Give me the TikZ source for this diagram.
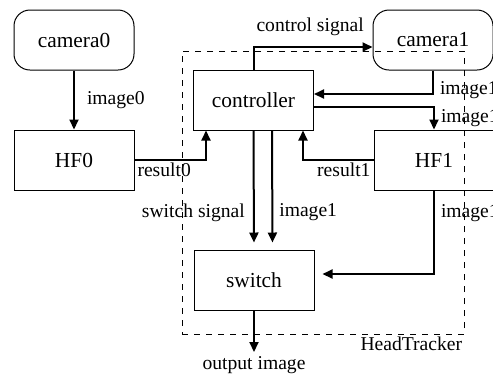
\documentclass[tikz,border=0pt]{standalone}
\usepackage{fontspec}
\setmainfont{Liberation Serif}
\usetikzlibrary{arrows.meta,positioning,calc}
\tikzset{
  % Plain block
  blk/.style={rectangle,draw,line width=0.5pt,
    minimum width=60pt,minimum height=30pt,
    font=\fontsize{10.7}{12}\selectfont},
  % Camera block
  cam/.style={blk,rounded corners=8pt},
  % Module frame
  frm/.style={rectangle,draw,dashed,line width=0.5pt,
    minimum width=141pt,minimum height=141.5pt},
  % Arrows
  arr/.style={-{Triangle[length=5pt,width=4.5pt]},line width=1pt},
  lbl/.style={font=\fontsize{9.8}{11}\selectfont,inner sep=1pt},
}
\begin{document}
\begin{tikzpicture}[x=0.5pt,y=-0.5pt]
  \clip (0,0) rectangle (493,377);

  % Module frame
  \node[frm] (frame) at (323,192.5) {};
  \node[lbl,below left] at (frame.south east) {HeadTracker};

  % Blocks
  \node[cam] (cam0) at (74,40) {camera0};
  \node[blk] (hf0) at (74,160) {HF0};
  \node[blk] (ctrl) at (253.5,100) {controller};
  \node[cam] (cam1) at (433,40) {camera1};
  \node[blk] (hf1) at (434,160) {HF1};
  \node[blk] (sw) at (254,280) {switch};
  \coordinate (out) at (254,352);

  % Connectors
  \draw[arr] (cam0) -- node[lbl,right,xshift=5pt] {image0} (hf0);
  \draw[arr] (hf0.east) node[lbl,below right] {result0}
    -| ($(ctrl.south west)+(13,0)$);
  \draw[arr] (ctrl.north) |- node[lbl,above right,yshift=4pt] {control signal}
    ($(cam1.west)+(0,7)$);
  \draw[arr] (cam1.south) |- node[lbl,anchor=base west,xshift=2pt] {image1}
    ($(ctrl.east)+(0,-6)$);
  \draw[arr] ($(ctrl.east)+(0,7)$) -| node[lbl,below right,xshift=2pt] {image1}
    (hf1.north);
  \draw[arr] (hf1.west) node[lbl,below left] {result1}
    -| ($(ctrl.south east)+(-11,0)$);
  \draw[arr,shorten >=3.5pt] (ctrl.south)
    -- node[lbl,left,pos=0.69,xshift=-3pt] {switch signal} (sw.north);
  \draw[arr,shorten >=3.5pt] ($(ctrl.south)+(18.5,0)$)
    -- node[lbl,right,pos=0.69,xshift=2pt] {image1} ($(sw.north)+(18.5,0)$);
  \draw[arr,shorten >=4pt] (hf1.south)
    |- node[lbl,right,pos=0.137,xshift=2pt] {image1'} ($(sw.east)+(0,-6)$);
  \draw[arr] (sw.south) -- (out) node[lbl,below,yshift=-1pt] {output image};
\end{tikzpicture}
\end{document}
